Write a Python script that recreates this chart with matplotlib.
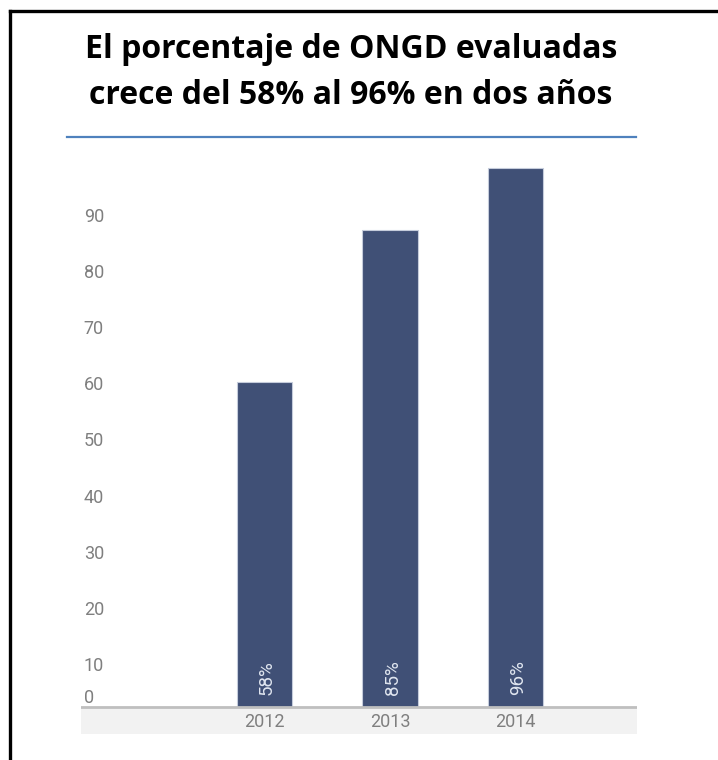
import matplotlib
matplotlib.use("Agg")
import matplotlib.pyplot as plt
import matplotlib.transforms as mtransforms
from matplotlib.lines import Line2D

# data
years = ["2012", "2013", "2014"]
values = [58, 85, 96]
bar_labels = ["58%", "85%", "96%"]
ytick_values = [0, 10, 20, 30, 40, 50, 60, 70, 80, 90]
title_lines = ["El porcentaje de ONGD evaluadas",
               "crece del 58% al 96% en dos años"]

W, H = 718, 760
DPI = 100
narrow = ["Roboto", "DejaVu Sans"]
bar_color = "#405076"
gray_text = "#7f7f7f"

fig = plt.figure(figsize=(W / DPI, H / DPI), dpi=DPI)
fig.patch.set_facecolor("white")

# plot area, placed in pixel terms
left, right, top, bottom = 81, 637, 146, 734
ax = fig.add_axes([left / W, 1 - bottom / H, (right - left) / W, (bottom - top) / H])
ax.set_xlim(-1.462, 2.968)
ax.set_ylim(-4.82, 100)
for s in ax.spines.values():
    s.set_visible(False)

x = list(range(len(years)))
ax.bar(x, values, width=0.446, color=bar_color, edgecolor="#c5ccdb", linewidth=0.8, zorder=3)

# gray band under the axis + baseline
ax.axhspan(-4.82, 0, color="#f2f2f2", lw=0, zorder=1)
ax.axhline(0, color="#bfbfbf", lw=2, zorder=4)

# value labels inside bars, rotated
for xi, lab in zip(x, bar_labels):
    ax.text(xi + 0.02, 2.2, lab, rotation=90, ha="center", va="bottom",
            color="#dfe5ef", fontsize=13.5, family=narrow, zorder=5)

# year labels inside the band
ax.set_xticks(x)
ax.set_xticklabels(years, family=narrow, fontsize=13, color=gray_text)
ax.tick_params(axis="x", length=0, pad=-15)

# y tick labels drawn inside the axes, slightly shifted like the original
ax.set_yticks(ytick_values)
ax.set_yticklabels([str(v) for v in ytick_values], family=narrow, fontsize=13,
                   color=gray_text, ha="left")
ax.tick_params(axis="y", length=0, pad=-2)
for v, lab in zip(ytick_values, ax.get_yticklabels()):
    dy = 11 if v == 0 else -13
    lab.set_transform(lab.get_transform() +
                      mtransforms.ScaledTranslation(0, dy / DPI, fig.dpi_scale_trans))

# title
for i, line in enumerate(title_lines):
    fig.text(351 / W, 1 - (50 + 45 * i) / H, line, ha="center", va="center",
             fontsize=23, fontweight="bold", family=["Open Sans", "DejaVu Sans"])

# blue separator
fig.add_artist(Line2D([67 / W, 636 / W], [1 - 137 / H, 1 - 137 / H],
                      color="#4f81bd", lw=1.6))

# frame: top and left only
fig.add_artist(Line2D([10 / W, 1.0], [1 - 11 / H, 1 - 11 / H], color="black", lw=2.4))
fig.add_artist(Line2D([10 / W, 10 / W], [1 - 11 / H, 0.0], color="black", lw=2.4))

fig.savefig("out.png", dpi=DPI)
